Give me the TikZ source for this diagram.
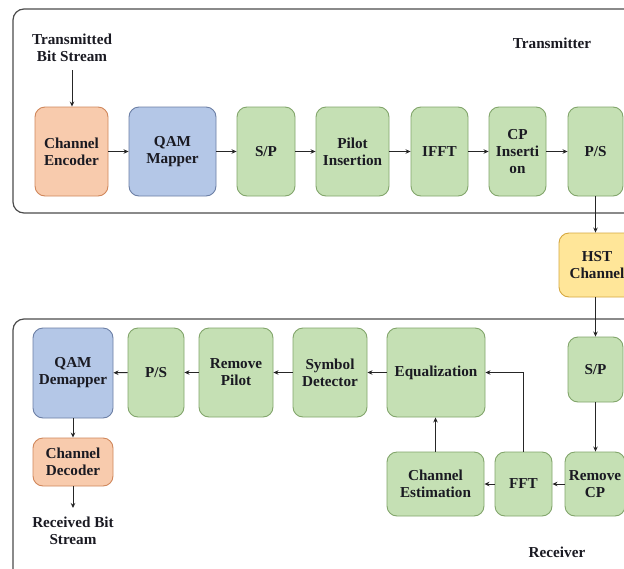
\documentclass[tikz,border=0pt]{standalone}
\usepackage{fontspec}
\setmainfont{Liberation Serif}
\usetikzlibrary{arrows.meta}
\definecolor{gfill}{HTML}{C5E0B4}\definecolor{gdraw}{HTML}{82A56B}
\definecolor{ofill}{HTML}{F8CBAD}\definecolor{odraw}{HTML}{D0875B}
\definecolor{bfill}{HTML}{B4C7E7}\definecolor{bdraw}{HTML}{6C7FA5}
\definecolor{yfill}{HTML}{FFE699}\definecolor{ydraw}{HTML}{D6A840}
\definecolor{txt}{HTML}{1A1A22}
\tikzset{
  blk/.style={rounded corners=10pt, line width=0.9pt, align=center, inner sep=1pt,
    font=\fontsize{15.2}{17}\selectfont\bfseries, text=txt},
  gbox/.style={blk, fill=gfill, draw=gdraw},
  obox/.style={blk, fill=ofill, draw=odraw},
  bbox/.style={blk, fill=bfill, draw=bdraw},
  ybox/.style={blk, fill=yfill, draw=ydraw},
  lbl/.style={align=center, font=\fontsize{15.2}{17}\selectfont\bfseries, text=txt},
  arr/.style={-{Stealth[length=5pt,width=4.5pt]}, line width=1pt, draw=black!85},
  frame/.style={rounded corners=11pt, line width=1.2pt, draw=black!70}
}
\begin{document}
\begin{tikzpicture}[x=1pt,y=-1pt]
\useasboundingbox (0,0) rectangle (624,568);
\clip (0,0) rectangle (624,568);
\fill[white] (0,0) rectangle (624,568);
\draw[frame] (13,9) rectangle (660,213);
\draw[frame] (13,319) rectangle (660,600);
% transmitter
\node[lbl] (tbs) at (72,47.5) {Transmitted\\Bit Stream};
\node[lbl] (txl) at (552,43) {Transmitter};
\node[obox, minimum width=73pt, minimum height=89pt] (enc) at (71.5,151.5) {Channel\\Encoder};
\node[bbox, minimum width=87pt, minimum height=89pt] (map) at (172.5,151.5) {QAM\\Mapper};
\node[gbox, minimum width=58pt, minimum height=89pt] (sp) at (266,151.5) {S/P};
\node[gbox, minimum width=73pt, minimum height=89pt] (pil) at (352.5,151.5) {Pilot\\Insertion};
\node[gbox, minimum width=57pt, minimum height=89pt] (ifft) at (439.5,151.5) {IFFT};
\node[gbox, minimum width=57pt, minimum height=89pt] (cp) at (517.5,151.5) {CP\\Inserti\\on};
\node[gbox, minimum width=55pt, minimum height=89pt] (ps) at (595.5,151.5) {P/S};
% channel
\node[ybox, minimum width=76pt, minimum height=64pt] (hst) at (597,265) {HST\\Channel};
% receiver
\node[lbl] (rxl) at (557,552) {Receiver};
\node[gbox, minimum width=55pt, minimum height=65pt] (sp2) at (595.5,369.5) {S/P};
\node[gbox, minimum width=60pt, minimum height=64pt] (rcp) at (595,484) {Remove\\CP};
\node[gbox, minimum width=57pt, minimum height=64pt] (fft) at (523.5,484) {FFT};
\node[gbox, minimum width=97pt, minimum height=64pt] (est) at (435.5,484) {Channel\\Estimation};
\node[gbox, minimum width=98pt, minimum height=89pt] (eq) at (436,372.5) {Equalization};
\node[gbox, minimum width=74pt, minimum height=89pt] (sd) at (330,372.5) {Symbol\\Detector};
\node[gbox, minimum width=74pt, minimum height=89pt] (rp) at (236,372.5) {Remove\\Pilot};
\node[gbox, minimum width=56pt, minimum height=89pt] (ps2) at (156,372.5) {P/S};
\node[bbox, minimum width=80pt, minimum height=90pt] (dem) at (73,373) {QAM\\Demapper};
\node[obox, minimum width=80pt, minimum height=48pt] (dec) at (73,462) {Channel\\Decoder};
\node[lbl] (rbs) at (73,531) {Received Bit\\Stream};
% connectors
\draw[arr] (tbs.south |- 0,70) -- (enc.north -| tbs.south);
\draw[arr] (enc) -- (map);
\draw[arr] (map) -- (sp);
\draw[arr] (sp) -- (pil);
\draw[arr] (pil) -- (ifft);
\draw[arr] (ifft) -- (cp);
\draw[arr] (cp) -- (ps);
\draw[arr] (ps) -- (hst.north -| ps);
\draw[arr] (hst.south -| sp2) -- (sp2);
\draw[arr] (sp2) -- (rcp.north -| sp2);
\draw[arr] (rcp) -- (fft);
\draw[arr] (fft) -- (est);
\draw[arr] (fft.north) |- (eq.east);
\draw[arr] (est.north) -- (est.north |- eq.south);
\draw[arr] (eq) -- (sd);
\draw[arr] (sd) -- (rp);
\draw[arr] (rp) -- (ps2);
\draw[arr] (ps2) -- (dem);
\draw[arr] (dem) -- (dec);
\draw[arr] (dec.south) -- (73,508);
\end{tikzpicture}
\end{document}
